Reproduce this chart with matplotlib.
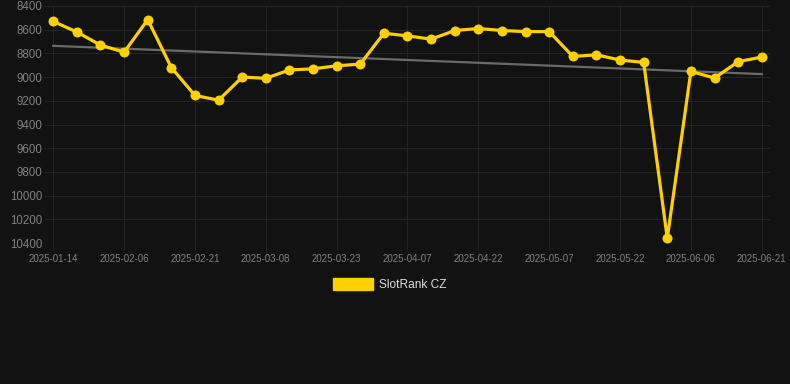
import matplotlib
matplotlib.use("Agg")
import matplotlib.pyplot as plt
import numpy as np

plt.rcParams['font.family'] = ['Liberation Sans', 'DejaVu Sans']

# SlotRank CZ rank per snapshot (lower number = better, axis inverted)
ranks = [8530, 8620, 8730, 8790, 8515, 8920, 9155, 9195, 9000, 9010,
         8940, 8930, 8905, 8890, 8630, 8652, 8680, 8607, 8590, 8607,
         8616, 8616, 8826, 8812, 8856, 8876, 10360, 8952, 9008, 8870,
         8831]
tick_labels = ['2025-01-14', '2025-02-06', '2025-02-21', '2025-03-08',
               '2025-03-23', '2025-04-07', '2025-04-22', '2025-05-07',
               '2025-05-22', '2025-06-06', '2025-06-21']
y_ticks = [8400, 8600, 8800, 9000, 9200, 9400, 9600, 9800, 10000, 10200, 10400]

bg = '#121212'
gold = '#FFD000'

fig = plt.figure(figsize=(7.9, 3.84), dpi=100, facecolor=bg)
ax = fig.add_axes([45 / 790, 1 - 243 / 384, 725 / 790, 237 / 384], facecolor=bg)

x = np.arange(len(ranks))
ax.plot(x, ranks, color=gold, lw=2.3, marker='o', ms=7.2, mew=0, zorder=3,
        solid_joinstyle='round', clip_on=False)

# linear trend
k, b = np.polyfit(x, ranks, 1)
ax.plot([x[0], x[-1]], [k * x[0] + b, k * x[-1] + b], color='#6a6a6a', lw=1.6, zorder=2)

ax.set_xlim(-0.35, len(ranks) - 1 + 0.35)
ax.set_ylim(10400, 8400)
ax.set_yticks(y_ticks)
ax.set_yticklabels([str(v) for v in y_ticks])
ax.set_xticks(x[::3])
ax.set_xticklabels(tick_labels)

ax.grid(True, color='#242424', lw=0.8)
ax.set_axisbelow(True)
for s in ax.spines.values():
    s.set_visible(False)
ax.tick_params(axis='y', length=0, labelsize=8.3, labelcolor='#808080', pad=2)
ax.tick_params(axis='x', length=5, color='#242424', labelsize=7, labelcolor='#808080', pad=3)

# legend
fig.patches.append(plt.Rectangle((333 / 790, 1 - 290 / 384), 40 / 790, 12 / 384,
                                 transform=fig.transFigure, color=gold))
fig.text(379 / 790, 1 - 285 / 384, 'SlotRank CZ', color='#dddddd', fontsize=8.6, va='center')

fig.savefig('out.png', dpi=100, facecolor=bg)
